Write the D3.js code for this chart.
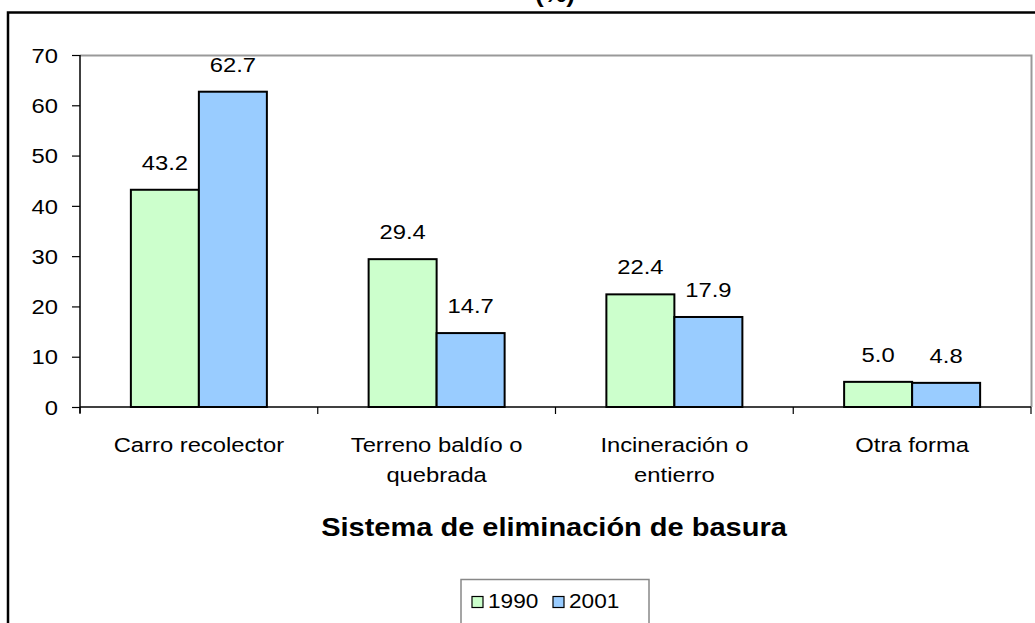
<!DOCTYPE html>
<html><head><meta charset="utf-8">
<script src="https://cdn.jsdelivr.net/npm/d3@7"></script>
<style>
html,body{margin:0;padding:0;background:#fff;}
svg{display:block;font-family:Arial,"Liberation Sans",sans-serif;}
</style></head>
<body><svg id="c" width="1035" height="623"></svg>
<script>
const categories = [["Carro recolector"], ["Terreno baldío o", "quebrada"], ["Incineración o", "entierro"], ["Otra forma"]];
const seriesNames = ["1990", "2001"];
const values1990 = [43.2, 29.4, 22.4, 5.0];
const values2001 = [62.7, 14.7, 17.9, 4.8];
const yTicks = [0, 10, 20, 30, 40, 50, 60, 70];
const colors = ["#CCFFCC", "#99CCFF"];
const axisTitle = "Sistema de eliminación de basura";
const topTitle = "(%)";

const svg = d3.select("#c");
const L = 80, R = 1031, T = 55, B = 407;
const fs = 20.5;
const SX = 1.16;

function txt(x, y, s, size, anchor, bold) {
  return svg.append("text").attr("transform", `translate(${x},${y}) scale(${SX},1)`)
    .attr("text-anchor", anchor || "middle").attr("font-size", size)
    .attr("font-weight", bold ? "bold" : null).text(s);
}

// outer frame (cropped on right and bottom)
svg.append("rect").attr("x", 8).attr("y", 12.5).attr("width", 1100).attr("height", 700)
  .attr("fill", "none").attr("stroke", "#000").attr("stroke-width", 2.5);
txt(555, 2, topTitle, 22, "middle", true);

const x = d3.scaleBand().domain(d3.range(categories.length)).range([L, R]).paddingInner(0).paddingOuter(0);
const y = d3.scaleLinear().domain([0, 70]).range([B, T]);
const barW = 68;
const xs = d3.scaleBand().domain(seriesNames).range([0, 2 * barW]);

// plot area border (gray, top & right)
svg.append("path").attr("d", `M${L},${T + 0.5}H${R + 0.5}V${B}`).attr("fill", "none")
  .attr("stroke", "#999").attr("stroke-width", 2);

const data = seriesNames.map((s, i) => ({ name: s, vals: i === 0 ? values1990 : values2001, color: colors[i] }));

data.forEach(s => {
  s.vals.forEach((v, ci) => {
    const x0 = x(ci) + x.bandwidth() / 2 - barW + xs(s.name);
    svg.append("rect").attr("x", x0).attr("y", y(v)).attr("width", xs.bandwidth())
      .attr("height", y(0) - y(v)).attr("fill", s.color).attr("stroke", "#000").attr("stroke-width", 2);
    txt(x0 + xs.bandwidth() / 2, y(v) - 20, v.toFixed(1), fs);
  });
});

// y axis
const yAxis = d3.axisLeft(y).tickValues(yTicks).tickSize(8).tickPadding(13).tickFormat(d3.format("d"));
const gy = svg.append("g").attr("transform", `translate(${L},0)`).call(yAxis);
gy.select(".domain").attr("stroke", "#000").attr("stroke-width", 1.5).attr("d", `M0,${T}V${B + 6}`);
gy.selectAll(".tick line").attr("stroke", "#000").attr("stroke-width", 1.2);
gy.selectAll(".tick text").attr("font-size", fs).attr("font-family", "Arial,'Liberation Sans',sans-serif")
  .attr("fill", "#000").attr("x", 0).attr("dy", "0.35em")
  .attr("transform", `translate(-22,0) scale(${SX},1)`);

// x axis
svg.append("line").attr("x1", L).attr("x2", R).attr("y1", B).attr("y2", B).attr("stroke", "#000").attr("stroke-width", 1.5);
const bounds = d3.range(categories.length + 1).map(i => i < categories.length ? x(i) : R);
svg.selectAll(".xt").data(bounds).join("line").attr("x1", d => d).attr("x2", d => d)
  .attr("y1", B).attr("y2", B + 7).attr("stroke", "#000").attr("stroke-width", 1.2);
categories.forEach((lines, ci) => {
  lines.forEach((ln, li) => txt(x(ci) + x.bandwidth() / 2, 452 + li * 30, ln, fs));
});

txt(554, 536, axisTitle, 25, "middle", true);

// legend
svg.append("rect").attr("x", 461).attr("y", 579.5).attr("width", 188).attr("height", 60)
  .attr("fill", "#fff").attr("stroke", "#888").attr("stroke-width", 1.5);
const legX = [472, 553];
data.forEach((s, i) => {
  svg.append("rect").attr("x", legX[i]).attr("y", 596.5).attr("width", 11).attr("height", 11)
    .attr("fill", s.color).attr("stroke", "#000").attr("stroke-width", 1.2);
  txt(legX[i] + 16, 608, s.name, 19.5, "start");
});
</script></body></html>
